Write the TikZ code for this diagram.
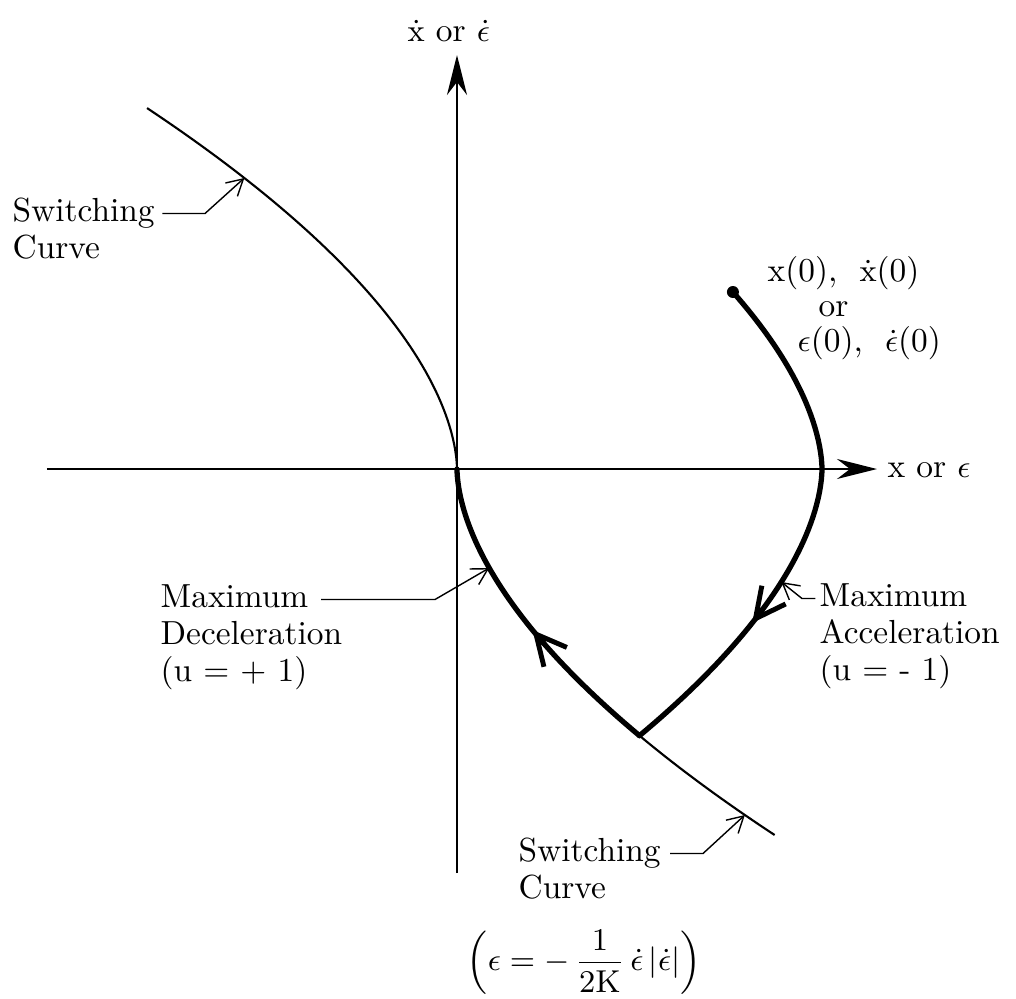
\documentclass[tikz,border=0pt]{standalone}
\usetikzlibrary{arrows.meta,positioning,calc}

\begin{document}
\begin{tikzpicture}[
  declare function={sw(\t)=0.328*pow(abs(\t)+0.0001,1.75);},
  lbl/.style={inner sep=0pt, anchor=west, text height=7.4pt, text depth=2.6pt, font=\fontsize{9.5}{10}\selectfont},
  axis/.style={semithick, -{Stealth[length=4mm, width=2mm]}},
  swc/.style={semithick},
  traj/.style={line width=1.5pt, line join=round, line cap=round},
  dirarrow/.style={line width=1.5pt, -{Straight Barb[length=3mm, width=3mm, line width=1.4pt]}},
  leader/.style={thin, -{Straight Barb[length=1.6mm, width=1.8mm]}}]
\useasboundingbox (-4.57,4.69) rectangle (5.59,-5.29);

\coordinate (O) at (0,0);
\coordinate (xmin) at (-4.10,0);
\coordinate (xmax) at (4.20,0);
\coordinate (ymin) at (0,-4.04);
\coordinate (ymax) at (0,4.14);
\coordinate (start) at ({3.65-sw(1.77)},1.77);
\coordinate (acc1) at ({3.65-sw(1.40)},-1.40);
\coordinate (acc2) at ({3.65-sw(1.54)},-1.54);
\coordinate (dec1) at ({sw(1.75)},-1.75);
\coordinate (dec2) at ({sw(1.61)},-1.61);

\draw[axis] (xmin) -- (xmax);
\draw[axis] (ymin) -- (ymax);

\draw[swc] plot[domain=0:3.61, samples=60] ({-sw(\x)},\x);
\draw[swc] plot[domain=-2.667:-3.66, samples=20] ({sw(\x)},\x);

\draw[traj] plot[domain=1.77:-2.667, samples=70] ({3.65-sw(\x)},\x);
\draw[traj] plot[domain=-2.667:0, samples=60] ({sw(\x)},\x);
\draw[dirarrow] (acc1) -- (acc2);
\draw[dirarrow] (dec1) -- (dec2);
\fill (start) circle (0.06);

\node[lbl] (ylab) at (-0.50,4.355) {$\dot{\mathrm{x}}$ or $\dot{\epsilon}$};
\node[lbl] (xlab) at (4.30,0) {x or $\epsilon$};

\node[lbl] (ic1) at (3.10,1.955) {x(0),\ \ $\dot{\mathrm{x}}$(0)};
\node[lbl] (ic2) at (3.61,1.605) {or};
\node[lbl] (ic3) at (3.40,1.255) {$\epsilon$(0),\ \ $\dot{\epsilon}$(0)};

\node[lbl] (swA) at (-4.45,2.555) {Switching};
\node[lbl, anchor=north west] (swB) at (swA.south west) {Curve};
\coordinate (swAk) at (-2.52,0);
\coordinate (swAt) at ({-sw(2.91)},2.91);
\draw[leader] ([xshift=2pt]swA.east) -- (swA.east -| swAk) -- (swAt);

\node[lbl] (decA) at (-2.97,-1.305) {Maximum};
\node[lbl, anchor=north west] (decB) at (decA.south west) {Deceleration};
\node[lbl, anchor=north west] (decC) at (decB.south west) {(u = + 1)};
\coordinate (decK) at (-0.22,0);
\coordinate (decT) at ({sw(0.99)},-0.99);
\draw[leader] ([xshift=3.5pt]decA.east) -- (decA.east -| decK) -- (decT);

\node[lbl] (accA) at (3.62,-1.295) {Maximum};
\node[lbl, anchor=north west] (accB) at (accA.south west) {Acceleration};
\node[lbl, anchor=north west] (accC) at (accB.south west) {(u = - 1)};
\coordinate (accK) at (3.45,0);
\coordinate (accT) at ({3.65-sw(1.13)},-1.13);
\draw[leader] ([xshift=-1pt]accA.west) -- (accA.west -| accK) -- (accT);

\node[lbl] (swC) at (0.61,-3.845) {Switching};
\node[lbl, anchor=north west] (swD) at (swC.south west) {Curve};
\coordinate (swCk) at (2.46,0);
\coordinate (swCt) at ({sw(3.46)},-3.46);
\draw[leader] ([xshift=2.5pt]swC.east) -- (swC.east -| swCk) -- (swCt);

\node[font=\fontsize{9.5}{10}\selectfont, inner sep=0pt] (eq) at (1.27,-4.93)
  {$\displaystyle\left(\epsilon = -\,\frac{1}{2\mathrm{K}}\,\dot{\epsilon}\,|\dot{\epsilon}|\right)$};
\end{tikzpicture}
\end{document}
